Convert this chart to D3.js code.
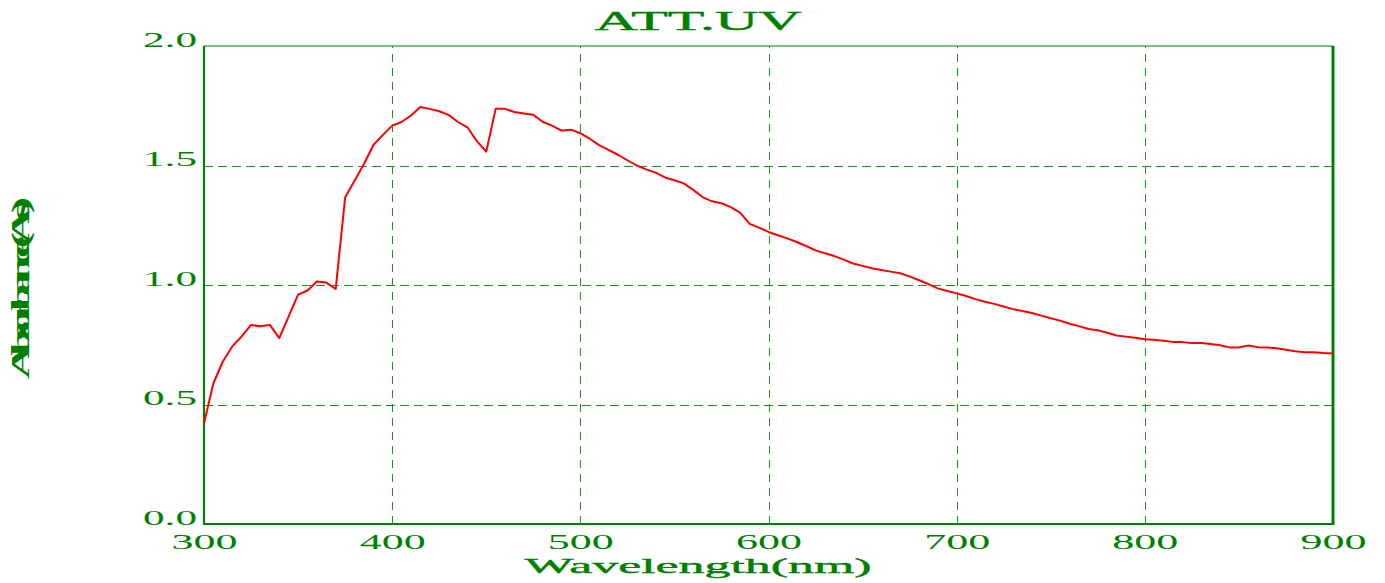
<!DOCTYPE html>
<html>
<head>
<meta charset="utf-8">
<script src="https://cdn.jsdelivr.net/npm/d3@7"></script>
<style>
  body { margin: 0; background: #fff; }
  text { font-family: "Liberation Serif", "Times New Roman", serif; fill: #008000; }
</style>
</head>
<body>
<div id="chart"></div>
<script>
// wavelength (nm), every 5 nm
const wavelengths = [
  300, 305, 310, 315, 320, 325, 330, 335, 340, 345,
  350, 355, 360, 365, 370, 375, 380, 385, 390, 395,
  400, 405, 410, 415, 420, 425, 430, 435, 440, 445,
  450, 455, 460, 465, 470, 475, 480, 485, 490, 495,
  500, 505, 510, 515, 520, 525, 530, 535, 540, 545,
  550, 555, 560, 565, 570, 575, 580, 585, 590, 595,
  600, 605, 610, 615, 620, 625, 630, 635, 640, 645,
  650, 655, 660, 665, 670, 675, 680, 685, 690, 695,
  700, 705, 710, 715, 720, 725, 730, 735, 740, 745,
  750, 755, 760, 765, 770, 775, 780, 785, 790, 795,
  800, 805, 810, 815, 820, 825, 830, 835, 840, 845,
  850, 855, 860, 865, 870, 875, 880, 885, 890, 895,
  900
];
// absorbance
const absorbance = [
  0.421, 0.589, 0.680, 0.743, 0.785, 0.833, 0.827, 0.833, 0.778, 0.869,
  0.960, 0.977, 1.015, 1.010, 0.984, 1.366, 1.436, 1.506, 1.586, 1.627,
  1.667, 1.682, 1.709, 1.745, 1.737, 1.727, 1.712, 1.682, 1.660, 1.602,
  1.558, 1.737, 1.737, 1.724, 1.718, 1.712, 1.683, 1.667, 1.646, 1.650,
  1.635, 1.612, 1.585, 1.565, 1.545, 1.522, 1.500, 1.484, 1.470, 1.450,
  1.438, 1.425, 1.398, 1.368, 1.350, 1.342, 1.326, 1.302, 1.256, 1.240,
  1.222, 1.208, 1.195, 1.180, 1.163, 1.145, 1.133, 1.121, 1.106, 1.090,
  1.080, 1.070, 1.063, 1.056, 1.049, 1.036, 1.020, 1.004, 0.986, 0.975,
  0.965, 0.954, 0.941, 0.930, 0.921, 0.910, 0.899, 0.891, 0.883, 0.872,
  0.861, 0.851, 0.838, 0.828, 0.816, 0.811, 0.800, 0.789, 0.784, 0.779,
  0.773, 0.771, 0.767, 0.762, 0.761, 0.757, 0.757, 0.753, 0.748, 0.739,
  0.739, 0.747, 0.740, 0.739, 0.735, 0.729, 0.723, 0.719, 0.719, 0.715,
  0.713
];
const xTicks = [300, 400, 500, 600, 700, 800, 900];
const yTicks = [0.0, 0.5, 1.0, 1.5, 2.0];

const width = 1385;
const height = 583;
const plotLeft = 204, plotRight = 1333, plotTop = 46, plotBottom = 524;
const green = "#008000";

const svg = d3.select("#chart").append("svg")
    .attr("width", width)
    .attr("height", height);

const x = d3.scaleLinear().domain([300, 900]).range([plotLeft, plotRight]);
const y = d3.scaleLinear().domain([0, 2]).range([plotBottom, plotTop]);

// dashed grid
svg.append("g")
    .attr("transform", `translate(0, ${plotBottom})`)
    .call(d3.axisBottom(x).tickValues(xTicks.slice(1, -1)).tickSize(-(plotBottom - plotTop)).tickFormat(""))
    .call(g => g.select(".domain").remove())
    .selectAll("line")
    .attr("stroke", "#1a961a")
    .attr("shape-rendering", "crispEdges")
    .attr("stroke-dasharray", "8,6");

svg.append("g")
    .attr("transform", `translate(${plotLeft}, 0)`)
    .call(d3.axisLeft(y).tickValues(yTicks.slice(1, -1)).tickSize(-(plotRight - plotLeft)).tickFormat(""))
    .call(g => g.select(".domain").remove())
    .selectAll("line")
    .attr("stroke", "#1a961a")
    .attr("shape-rendering", "crispEdges")
    .attr("stroke-dasharray", "9,5");

// frame
svg.append("line").attr("x1", plotLeft).attr("x2", plotRight).attr("y1", plotTop).attr("y2", plotTop)
    .attr("stroke", green).attr("stroke-width", 1.2);
svg.append("line").attr("x1", plotLeft).attr("x2", plotRight).attr("y1", plotBottom).attr("y2", plotBottom)
    .attr("stroke", green).attr("stroke-width", 2);
svg.append("line").attr("x1", plotLeft).attr("x2", plotLeft).attr("y1", plotTop).attr("y2", plotBottom + 1)
    .attr("stroke", green).attr("stroke-width", 2.2);
svg.append("line").attr("x1", plotRight).attr("x2", plotRight).attr("y1", plotTop).attr("y2", plotBottom + 1)
    .attr("stroke", green).attr("stroke-width", 3);

// tick labels
const xAxis = svg.append("g")
    .attr("transform", `translate(0, ${plotBottom})`)
    .call(d3.axisBottom(x).tickValues(xTicks).tickSize(0).tickFormat(d3.format("d")));
xAxis.select(".domain").remove();
xAxis.selectAll("text")
    .attr("y", 25)
    .attr("dy", 0)
    .attr("fill", green)
    .style("font-size", "21px")
    .attr("textLength", 66)
    .attr("lengthAdjust", "spacingAndGlyphs");

const yAxis = svg.append("g")
    .attr("transform", `translate(${plotLeft}, 0)`)
    .call(d3.axisLeft(y).tickValues(yTicks).tickSize(0).tickFormat(d3.format(".1f")));
yAxis.select(".domain").remove();
yAxis.selectAll("text")
    .attr("x", -7)
    .attr("dy", 0)
    .attr("fill", green)
    .style("font-size", "21px")
    .attr("textLength", 54)
    .attr("lengthAdjust", "spacingAndGlyphs");

// titles
svg.append("text")
    .attr("x", 698)
    .attr("y", 30)
    .attr("text-anchor", "middle")
    .style("font-size", "27px")
    .attr("stroke", green)
    .attr("stroke-width", 0.4)
    .attr("textLength", 207)
    .attr("lengthAdjust", "spacingAndGlyphs")
    .text("ATT.UV");

svg.append("text")
    .attr("x", 698)
    .attr("y", 573)
    .attr("text-anchor", "middle")
    .style("font-size", "22px")
    .attr("stroke", green)
    .attr("stroke-width", 0.4)
    .attr("textLength", 347)
    .attr("lengthAdjust", "spacingAndGlyphs")
    .text("Wavelength(nm)");

svg.append("text")
    .attr("transform", "translate(29, 288) rotate(-90) scale(1.9, 1)")
    .attr("text-anchor", "middle")
    .style("font-size", "26px")
    .style("font-weight", "bold")
    .attr("textLength", 96)
    .attr("lengthAdjust", "spacing")
    .text("Absorbance(As)");

// spectrum
const line = d3.line()
    .x((d, i) => x(wavelengths[i]))
    .y(d => y(d));

svg.append("path")
    .datum(absorbance)
    .attr("fill", "none")
    .attr("stroke", "#ff0000")
    .attr("stroke-width", 2)
    .attr("stroke-linejoin", "round")
    .attr("d", line);
</script>
</body>
</html>
